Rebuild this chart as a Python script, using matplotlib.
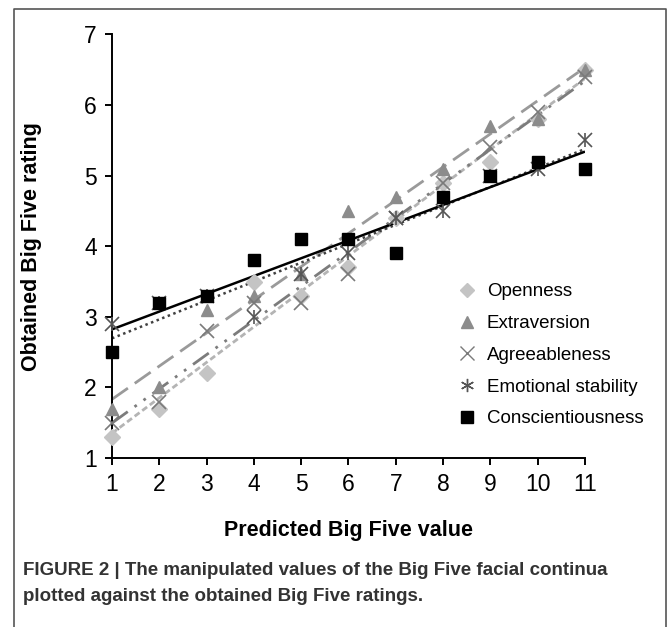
import numpy as np
import matplotlib.pyplot as plt
from matplotlib.lines import Line2D

# predicted value on x, obtained mean rating on y
predicted = np.arange(1, 12)
openness = [1.3, 1.7, 2.2, 3.5, 3.3, 3.7, 4.4, 4.9, 5.2, 5.8, 6.5]
extraversion = [1.7, 2.0, 3.1, 3.3, 3.6, 4.5, 4.7, 5.1, 5.7, 5.8, 6.5]
agreeableness = [1.5, 1.8, 2.8, 3.2, 3.2, 3.6, 4.4, 4.9, 5.4, 5.9, 6.4]
emotional = [2.9, 3.2, 3.3, 3.0, 3.6, 3.9, 4.4, 4.5, 5.0, 5.1, 5.5]
conscientious = [2.5, 3.2, 3.3, 3.8, 4.1, 4.1, 3.9, 4.7, 5.0, 5.2, 5.1]

labels = ["Openness", "Extraversion", "Agreeableness", "Emotional stability", "Conscientiousness"]

plt.rcParams['font.family'] = ['Liberation Sans', 'DejaVu Sans']

fig = plt.figure(figsize=(6.69, 6.27), dpi=100)
ax = fig.add_axes([0.1674, 0.2695, 0.7070, 0.6755])

series = [openness, extraversion, agreeableness, emotional, conscientious]
# marker, marker colour, marker size, line colour, dashes, line width
styles = [
    ("D", "#c4c4c4", 8.0, "#b4b4b4", (2.2, 1.2), 2.0),
    ("^", "#8c8c8c", 9.0, "#9a9a9a", (7, 3), 2.0),
    ("x", "#7a7a7a", 9.5, "#7c7c7c", (7, 3, 1, 3, 1, 3), 2.0),
    ("x", "#555555", 9.5, "#404040", (1, 1.4), 1.8),
    ("s", "#000000", 9.0, "#000000", None, 1.8),
]

handles = []
for vals, (mk, mc, ms, lc, dash, lw), lab in zip(series, styles, labels):
    vals = np.array(vals)
    k, b = np.polyfit(predicted, vals, 1)
    xx = np.array([1, 11])
    ln, = ax.plot(xx, k * xx + b, color=lc, lw=lw, solid_capstyle="butt")
    if dash is not None:
        ln.set_dashes(dash)
    if lab == "Emotional stability":
        # asterisk = x plus a vertical bar
        ax.plot(predicted, vals, ls="none", marker="x", ms=ms, mew=1.2, color=mc, clip_on=False, zorder=3)
        ax.plot(predicted, vals, ls="none", marker="|", ms=ms * 1.1, mew=1.2, color=mc, clip_on=False, zorder=3)
        h = Line2D([], [], ls="none", marker=(6, 2, 0), ms=ms, mew=1.0, color=mc)
    elif mk == "x":
        ax.plot(predicted, vals, ls="none", marker="x", ms=ms, mew=1.2, color=mc, clip_on=False, zorder=3)
        h = Line2D([], [], ls="none", marker="x", ms=ms, mew=1.0, color=mc)
    else:
        ax.plot(predicted, vals, ls="none", marker=mk, ms=ms, color=mc, mec=mc, clip_on=False, zorder=3)
        h = Line2D([], [], ls="none", marker=mk, ms=ms * 0.9, color=mc, mec=mc)
    handles.append(h)

ax.set_xlim(1, 11)
ax.set_ylim(1, 7)
ax.set_xticks(range(1, 12))
ax.set_yticks(range(1, 8))
for s in ["top", "right"]:
    ax.spines[s].set_visible(False)
for s in ["left", "bottom"]:
    ax.spines[s].set_linewidth(1.4)
ax.tick_params(direction="out", length=5, width=1.4, labelsize=16.5, pad=6)

ax.set_xlabel("Predicted Big Five value", fontsize=15.5, fontweight="bold", labelpad=17)
ax.set_ylabel("Obtained Big Five rating", fontsize=15.5, fontweight="bold", labelpad=30)

leg = fig.legend(handles, labels, loc="upper left", bbox_to_anchor=(0.67, 0.563),
                 frameon=False, fontsize=13.5, handlelength=1.0, handletextpad=0.55,
                 labelspacing=0.78, borderpad=0)

fig.text(0.035, 0.083, "FIGURE 2 | The manipulated values of the Big Five facial continua",
         fontsize=13.5, fontweight="bold", color="#333333")
fig.text(0.035, 0.041, "plotted against the obtained Big Five ratings.",
         fontsize=13.5, fontweight="bold", color="#333333")

# outer frame, open at the bottom
x0, x1, y1 = 14 / 669, 666 / 669, 1 - 9 / 627
fig.add_artist(Line2D([x0, x0, x1, x1], [0, y1, y1, 0], transform=fig.transFigure,
                      color="#555555", lw=1.2))

fig.savefig("out.png", dpi=100)
